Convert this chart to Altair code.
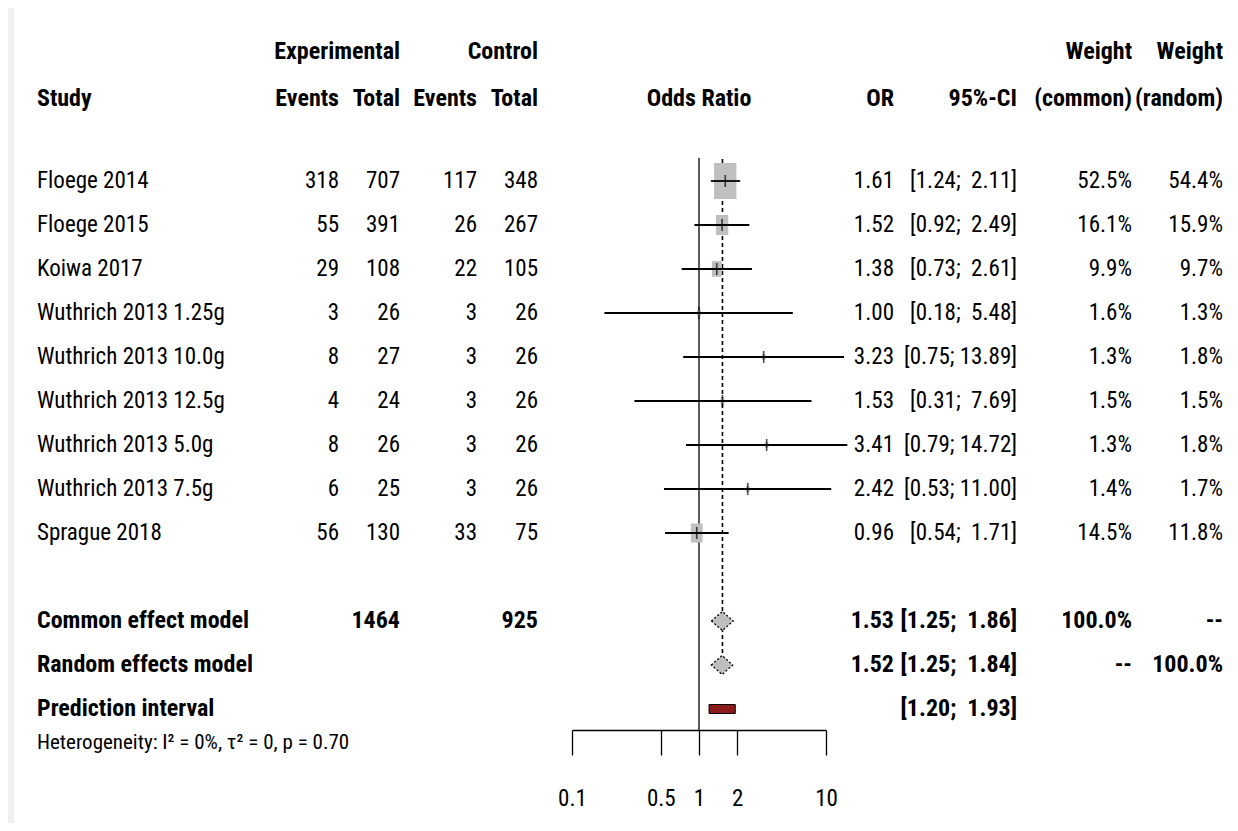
import altair as alt
import pandas as pd

# ---------------- data ----------------
studies = ["Floege 2014", "Floege 2015", "Koiwa 2017", "Wuthrich 2013 1.25g",
           "Wuthrich 2013 10.0g", "Wuthrich 2013 12.5g", "Wuthrich 2013 5.0g",
           "Wuthrich 2013 7.5g", "Sprague 2018"]
exp_events = [318, 55, 29, 3, 8, 4, 8, 6, 56]
exp_total = [707, 391, 108, 26, 27, 24, 26, 25, 130]
ctrl_events = [117, 26, 22, 3, 3, 3, 3, 3, 33]
ctrl_total = [348, 267, 105, 26, 26, 26, 26, 26, 75]
odds = [1.61, 1.52, 1.38, 1.00, 3.23, 1.53, 3.41, 2.42, 0.96]
lower = [1.24, 0.92, 0.73, 0.18, 0.75, 0.31, 0.79, 0.53, 0.54]
upper = [2.11, 2.49, 2.61, 5.48, 13.89, 7.69, 14.72, 11.00, 1.71]
w_common = [52.5, 16.1, 9.9, 1.6, 1.3, 1.5, 1.3, 1.4, 14.5]
w_random = [54.4, 15.9, 9.7, 1.3, 1.8, 1.5, 1.8, 1.7, 11.8]

model_labels = ["Common effect model", "Random effects model", "Prediction interval"]
model_or = [1.53, 1.52]
model_lower = [1.25, 1.25]
model_upper = [1.86, 1.84]
pred_lower = [1.20]
pred_upper = [1.93]
total_exp = ["1464"]
total_ctrl = ["925"]
heterogeneity = ["Heterogeneity: I\u00b2 = 0%, \u03c4\u00b2 = 0, p = 0.70"]

tick_values = [0.1, 0.5, 1, 2, 10]

header1 = ["Experimental", "Control", "Weight", "Weight"]
header2 = ["Study", "Events", "Total", "Events", "Total", "Odds Ratio",
           "OR", "95%-CI", "(common)", "(random)"]

# ---------------- layout / style ----------------
FONT = "Roboto Condensed, Liberation Sans Narrow, Arial Narrow, sans-serif"
FS = 23
FSB = 24
W, H = 1222, 722
ROW_PX = 44.0
ROW0 = 173.0


def r_of(px):
    return (px - ROW0) / ROW_PX


def ci_fmt(a, b):
    pad = "\u00a0" if b < 10 else ""
    return f"[{a:.2f}; {pad}{b:.2f}]"


Y_SCALE = alt.Scale(domain=[r_of(0), r_of(H)], reverse=True)
X_SCALE = alt.Scale(type="log", domain=[0.1, 10], range=[564, 818])
X_AXIS = alt.Axis(values=tick_values, format="~g", title=None, grid=False,
                  tickSize=25, tickColor="black", tickWidth=1.3,
                  domainColor="black", domainWidth=1.3,
                  labelFont=FONT, labelFontSize=FS, labelColor="black",
                  labelPadding=32, labelFlush=False, labelOverlap=False)


def X(field, **kw):
    return alt.X(field, scale=X_SCALE, axis=X_AXIS, **kw)


def Y(field):
    return alt.Y(field, scale=Y_SCALE, axis=None)


n = len(studies)
rows = list(range(n))
df = pd.DataFrame({
    "study": studies,
    "ee": [str(v) for v in exp_events],
    "et": [str(v) for v in exp_total],
    "ce": [str(v) for v in ctrl_events],
    "ct": [str(v) for v in ctrl_total],
    "or": odds, "lo": lower, "hi": upper,
    "or_t": [f"{v:.2f}" for v in odds],
    "ci_t": [ci_fmt(a, b) for a, b in zip(lower, upper)],
    "wc": w_common, "wr": w_random,
    "wc_t": [f"{v:.1f}%" for v in w_common],
    "wr_t": [f"{v:.1f}%" for v in w_random],
    "r": rows,
})

R_COMMON, R_RANDOM, R_PRED = n + 1, n + 2, n + 3
R_HET = r_of(735)
R_H1, R_H2 = r_of(44), r_of(91)

layers = []

# grey left strip (page frame)
frame = pd.DataFrame({"k": [0]})
layers.append(alt.Chart(frame).mark_rect(color="#f0f0f0").encode(
    x=alt.value(0), x2=alt.value(6), y=alt.value(0), y2=alt.value(H + 93)))

# reference line at OR = 1
ref = pd.DataFrame({"x": [1.0], "y": [r_of(150)], "y2": [r_of(H)]})
layers.append(alt.Chart(ref).mark_rule(color="black", strokeWidth=1.3).encode(
    x=X("x:Q"), y=Y("y:Q"), y2="y2:Q"))

# dashed line at common-effect estimate
dl = pd.DataFrame({"x": [model_or[0]], "y": [r_of(151)], "y2": [R_RANDOM - 0.2]})
layers.append(alt.Chart(dl).mark_rule(color="black", strokeWidth=1.6,
                                      strokeDash=[4, 3]).encode(
    x=X("x:Q"), y=Y("y:Q"), y2="y2:Q"))

# boxes
BOX_SHAPE = "M-0.62,-1L0.62,-1L0.62,1L-0.62,1Z"
layers.append(alt.Chart(df).mark_point(shape=BOX_SHAPE, filled=True,
                                       color="#bfbfbf", opacity=1,
                                       strokeWidth=0).encode(
    x=X("or:Q"), y=Y("r:Q"),
    size=alt.Size("wc:Q", scale=alt.Scale(domain=[0, 52.5], range=[0, 1300]),
                  legend=None)))

# CI lines
layers.append(alt.Chart(df).mark_rule(color="black", strokeWidth=1.8).encode(
    x=X("lo:Q"), x2="hi:Q", y=Y("r:Q")))

# estimate ticks
layers.append(alt.Chart(df).mark_tick(orient="vertical", color="black",
                                      size=12, thickness=1.6).encode(
    x=X("or:Q"), y=Y("r:Q")))

# diamonds
HALF = 9.5 / ROW_PX
drows = []
for i, (m, lo_, hi_) in enumerate(zip(model_or, model_lower, model_upper)):
    rc = R_COMMON + i
    drows += [{"m": i, "x": lo_, "y": rc, "y2": rc},
              {"m": i, "x": m, "y": rc - HALF, "y2": rc + HALF},
              {"m": i, "x": hi_, "y": rc, "y2": rc}]
dd = pd.DataFrame(drows)
layers.append(alt.Chart(dd).mark_area(fill="#bfbfbf", stroke="black",
                                      strokeWidth=1.3, strokeDash=[2, 2],
                                      opacity=1, orient="vertical").encode(
    x=X("x:Q"), y=Y("y:Q"), y2="y2:Q", detail="m:N"))

# prediction interval bar
PH = 4.5 / ROW_PX
pdf = pd.DataFrame({"lo": pred_lower, "hi": pred_upper,
                    "y": [R_PRED - PH], "y2": [R_PRED + PH]})
layers.append(alt.Chart(pdf).mark_rect(fill="#8b1a1a", stroke="black",
                                       strokeWidth=1).encode(
    x=X("lo:Q"), x2="hi:Q", y=Y("y:Q"), y2="y2:Q"))


def txt(data, field, xpx, align, bold=False, size=None):
    if size is None:
        size = FSB if bold else FS
    return alt.Chart(data).mark_text(
        align=align, baseline="middle", font=FONT, fontSize=size,
        fontWeight="bold" if bold else "normal", color="black").encode(
        x=alt.value(xpx), y=Y("r:Q"), text=f"{field}:N")


XS = {"study": 29, "ee": 331, "et": 392, "ce": 469, "ct": 530,
      "odds": 691, "or": 886, "ci": 1009, "wc": 1124, "wr": 1215}

# study table
layers.append(txt(df, "study", XS["study"], "left"))
layers.append(txt(df, "ee", XS["ee"], "right"))
layers.append(txt(df, "et", XS["et"], "right"))
layers.append(txt(df, "ce", XS["ce"], "right"))
layers.append(txt(df, "ct", XS["ct"], "right"))
layers.append(txt(df, "or_t", XS["or"], "right"))
layers.append(txt(df, "ci_t", XS["ci"], "right"))
layers.append(txt(df, "wc_t", XS["wc"], "right"))
layers.append(txt(df, "wr_t", XS["wr"], "right"))

# headers
h1_x = [(XS["et"], "right"), (XS["ct"], "right"), (XS["wc"], "right"), (XS["wr"], "right")]
for lab, (xp, al) in zip(header1, h1_x):
    layers.append(txt(pd.DataFrame({"t": [lab], "r": [R_H1]}), "t", xp, al, bold=True))
h2_x = [(XS["study"], "left"), (XS["ee"], "right"), (XS["et"], "right"),
        (XS["ce"], "right"), (XS["ct"], "right"), (XS["odds"], "center"),
        (XS["or"], "right"), (XS["ci"], "right"), (XS["wc"], "right"), (XS["wr"], "right")]
for lab, (xp, al) in zip(header2, h2_x):
    layers.append(txt(pd.DataFrame({"t": [lab], "r": [R_H2]}), "t", xp, al, bold=True))

# model rows
mdf = pd.DataFrame({"t": model_labels, "r": [R_COMMON, R_RANDOM, R_PRED]})
layers.append(txt(mdf, "t", XS["study"], "left", bold=True))
layers.append(txt(pd.DataFrame({"t": total_exp, "r": [R_COMMON]}), "t", XS["et"], "right", bold=True))
layers.append(txt(pd.DataFrame({"t": total_ctrl, "r": [R_COMMON]}), "t", XS["ct"], "right", bold=True))
layers.append(txt(pd.DataFrame({"t": [f"{v:.2f}" for v in model_or],
                                "r": [R_COMMON, R_RANDOM]}), "t", XS["or"], "right", bold=True))
ci_m = [ci_fmt(a, b) for a, b in zip(model_lower + pred_lower, model_upper + pred_upper)]
layers.append(txt(pd.DataFrame({"t": ci_m, "r": [R_COMMON, R_RANDOM, R_PRED]}),
                  "t", XS["ci"], "right", bold=True))
layers.append(txt(pd.DataFrame({"t": ["100.0%", "--"], "r": [R_COMMON, R_RANDOM]}),
                  "t", XS["wc"], "right", bold=True))
layers.append(txt(pd.DataFrame({"t": ["--", "100.0%"], "r": [R_COMMON, R_RANDOM]}),
                  "t", XS["wr"], "right", bold=True))
layers.append(txt(pd.DataFrame({"t": heterogeneity, "r": [R_HET]}),
                  "t", XS["study"], "left", size=21))

chart = alt.layer(*layers).properties(
    width=W, height=H, autosize="none",
    padding={"left": 0, "top": 0, "right": 0, "bottom": 93},
    background="white",
).configure_view(stroke=None)

chart.save("out.html", embed_options={"renderer": "svg", "actions": False})
